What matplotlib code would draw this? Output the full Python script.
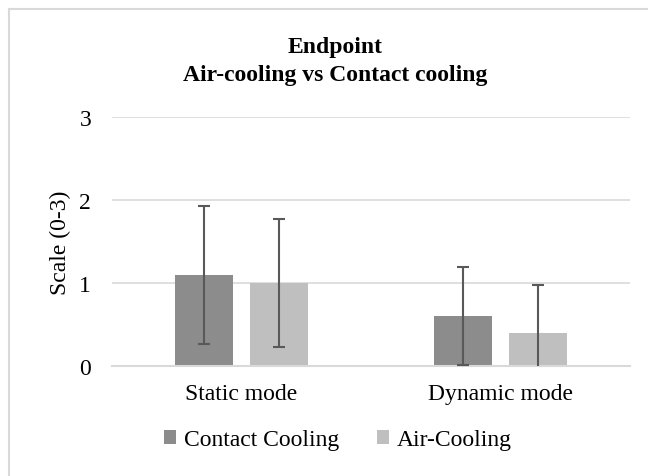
import matplotlib
matplotlib.use("Agg")
import matplotlib.pyplot as plt
from matplotlib.patches import Patch
from matplotlib.lines import Line2D
import numpy as np

categories = ["Static mode", "Dynamic mode"]
series_names = ["Contact Cooling", "Air-Cooling"]
contact_vals = [1.10, 0.60]
contact_err = [0.83, 0.59]
air_vals = [1.00, 0.40]
air_err = [0.77, 0.58]
yticks = [0, 1, 2, 3]
title_lines = ["Endpoint", "Air-cooling vs Contact cooling"]
ylabel = "Scale (0-3)"

plt.rcParams['font.family'] = ['Liberation Serif', 'DejaVu Serif']
FS = 17

fig = plt.figure(figsize=(6.48, 4.77), dpi=100)
ax = fig.add_axes([112/648, 1-367/477, (630-112)/648, (367-118)/477])

x = np.arange(len(categories))
w = 0.224
off = 0.143
c_contact = '#8c8c8c'
c_air = '#bfbfbf'
ecol = '#595959'

ax.bar(x - off, contact_vals, w, color=c_contact, zorder=2)
ax.bar(x + off, air_vals, w, color=c_air, zorder=2)
ax.errorbar(x - off, contact_vals, yerr=contact_err, fmt='none', ecolor=ecol,
            elinewidth=1.5, capsize=4.3, capthick=1.5, zorder=3, clip_on=True)
ax.errorbar(x + off, air_vals, yerr=air_err, fmt='none', ecolor=ecol,
            elinewidth=1.5, capsize=4.3, capthick=1.5, zorder=3, clip_on=True)

ax.set_xlim(-0.5, 1.5)
ax.set_ylim(0, 3)
ax.set_yticks(yticks)
ax.set_yticklabels([str(t) for t in yticks], fontsize=FS)
ax.set_xticks(x)
ax.set_xticklabels(categories, fontsize=FS)
ax.tick_params(axis='both', length=0, colors='black')
ax.tick_params(axis='y', pad=15)
ax.tick_params(axis='x', pad=12)
ax.grid(axis='y', color='#d9d9d9', linewidth=1.2, zorder=0)
ax.set_axisbelow(True)
for s in ['top', 'right', 'left']:
    ax.spines[s].set_visible(False)
ax.spines['bottom'].set_color('#d9d9d9')
ax.spines['bottom'].set_linewidth(1.5)
ax.set_ylabel(ylabel, fontsize=FS, labelpad=6)

fig.text(335/648, 1-48/477, title_lines[0], ha='center', va='center',
         fontsize=FS, fontweight='bold')
fig.text(335/648, 1-75/477, title_lines[1], ha='center', va='center',
         fontsize=FS, fontweight='bold')

handles = [Patch(facecolor=c_contact, edgecolor='none'),
           Patch(facecolor=c_air, edgecolor='none')]
fig.legend(handles, series_names, loc='center', bbox_to_anchor=(338/648, 1-441/477),
           ncol=2, frameon=False, fontsize=FS, handlelength=0.5, handleheight=0.5,
           handletextpad=0.35, columnspacing=1.6)

# chart area frame (partially visible)
fig.add_artist(Line2D([9/648, 9/648], [0, 1-10/477], color='#d9d9d9', linewidth=1.5,
                      transform=fig.transFigure))
fig.add_artist(Line2D([9/648, 1], [1-10/477, 1-10/477], color='#d9d9d9', linewidth=1.5,
                      transform=fig.transFigure))

fig.savefig('out.png', dpi=100)
